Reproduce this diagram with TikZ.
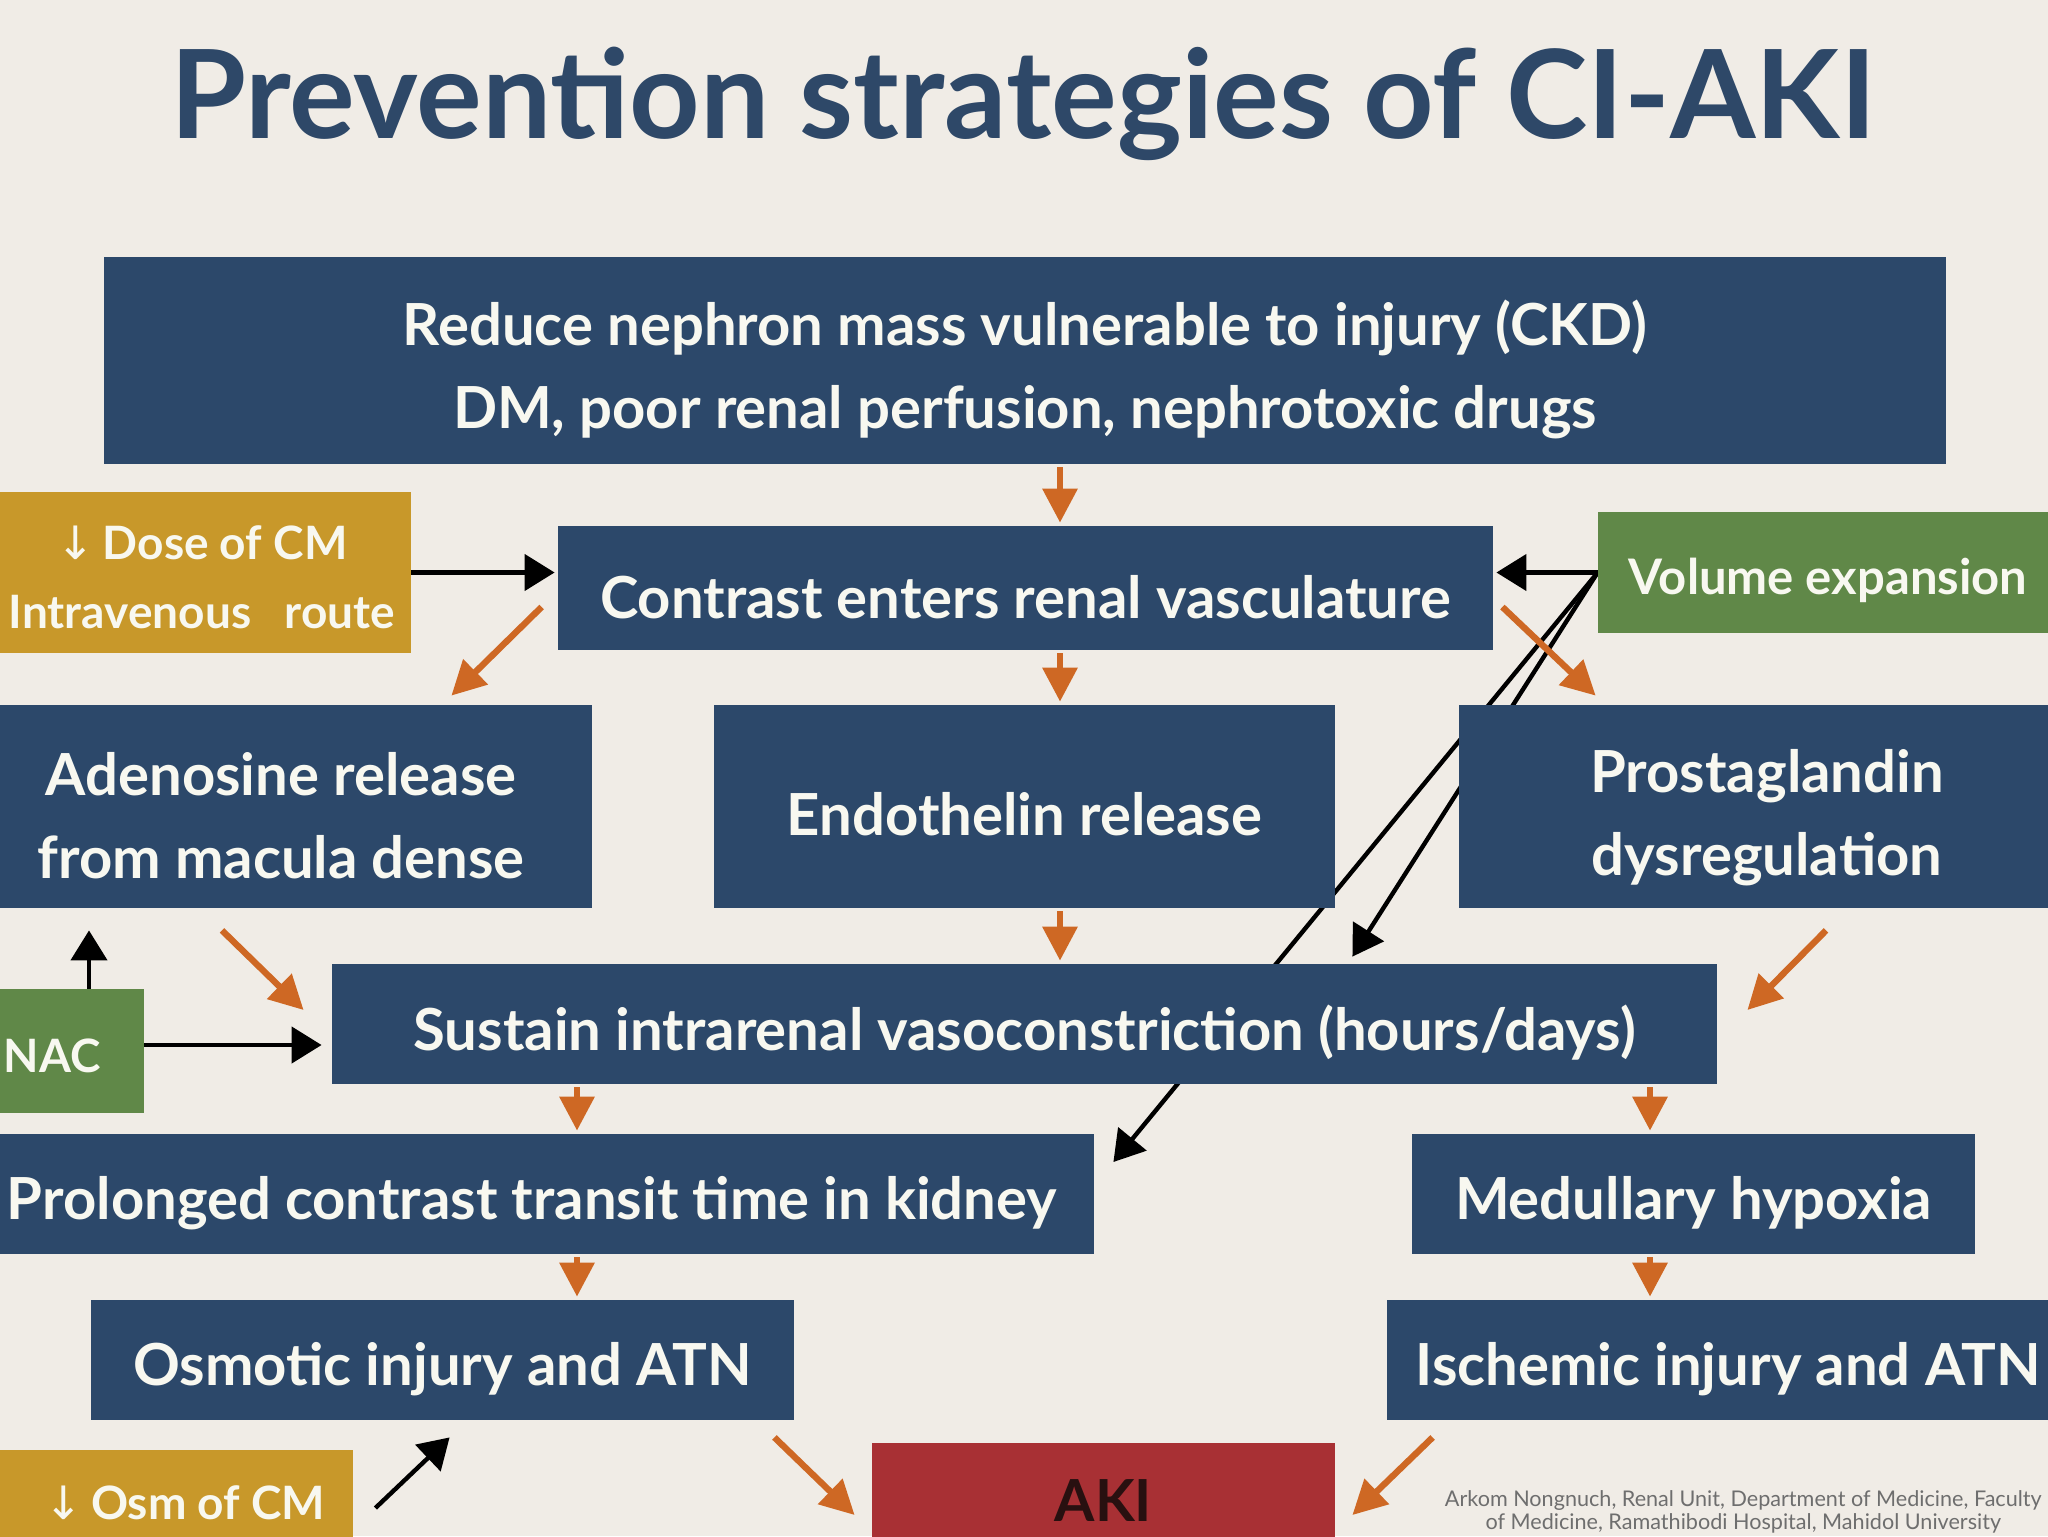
\documentclass[tikz,border=0pt]{standalone}
\usepackage{fontspec}
\setmainfont{Lato}
\newfontfamily\symfont{DejaVu Sans}
\newfontfamily\credfont{Lato}
\usetikzlibrary{arrows.meta,calc}
\definecolor{bgc}{RGB}{240,236,230}
\definecolor{navy}{RGB}{44,72,106}
\definecolor{gold}{RGB}{200,152,42}
\definecolor{leaf}{RGB}{96,136,72}
\definecolor{brick}{RGB}{168,48,52}
\definecolor{tblue}{RGB}{46,72,104}
\definecolor{orng}{RGB}{206,104,36}
\definecolor{boxtxt}{RGB}{248,248,240}
\definecolor{akitxt}{RGB}{40,16,16}
\definecolor{credgray}{RGB}{110,110,110}
\pgfdeclarelayer{back}
\pgfdeclarelayer{lines}
\pgfsetlayers{back,lines,main}
\newcommand{\dn}{{\symfont\mdseries ↓}}
\begin{document}
\begin{tikzpicture}[x=0.5pt,y=-0.5pt,
  box/.style={rectangle, inner sep=0pt, draw=none},
  nbox/.style={box, fill=navy},
  txt/.style={text=boxtxt, align=center, inner sep=0pt,
    font=\fontsize{29}{41.8}\selectfont\bfseries},
  stxt/.style={txt, font=\fontsize{23}{34.5}\selectfont\bfseries},
  oarr/.style={draw=orng, line width=3.2pt, -{Triangle[length=17pt,width=17pt]}},
  karr/.style={draw=black, line width=2.2pt, -{Triangle[length=15pt,width=18pt]}},
]
\useasboundingbox (0,0) rectangle (2048,1536);
\begin{pgfonlayer}{back}
\fill[bgc] (0,0) rectangle (2048,1536);
\end{pgfonlayer}

% title
\node[anchor=base, text=tblue, font=\fontsize{61.5}{64}\selectfont\bfseries] (title) at (1023,138) {Prevention strategies of CI-AKI};

% boxes
\node[nbox, minimum width={1842*0.5pt}, minimum height={207*0.5pt}] (ckd) at (1025,360.5) {};
\node[nbox, minimum width={935*0.5pt}, minimum height={124*0.5pt}] (contrast) at (1025.5,588) {};
\node[box, fill=gold, minimum width={418*0.5pt}, minimum height={161*0.5pt}] (dose) at (202,572.5) {};
\node[box, fill=leaf, minimum width={460*0.5pt}, minimum height={121*0.5pt}] (volume) at (1828,572.5) {};
\node[nbox, minimum width={622*0.5pt}, minimum height={203*0.5pt}] (adeno) at (281,806.5) {};
\node[nbox, minimum width={621*0.5pt}, minimum height={203*0.5pt}] (endo) at (1024.5,806.5) {};
\node[nbox, minimum width={616*0.5pt}, minimum height={203*0.5pt}] (prosta) at (1767,806.5) {};
\node[nbox, minimum width={1385*0.5pt}, minimum height={120*0.5pt}] (sustain) at (1024.5,1024) {};
\node[box, fill=leaf, minimum width={184*0.5pt}, minimum height={124*0.5pt}] (nac) at (52,1051) {};
\node[nbox, minimum width={1144*0.5pt}, minimum height={120*0.5pt}] (prolonged) at (522,1194) {};
\node[nbox, minimum width={563*0.5pt}, minimum height={120*0.5pt}] (medullary) at (1693.5,1194) {};
\node[nbox, minimum width={703*0.5pt}, minimum height={120*0.5pt}] (osmotic) at (442.5,1360) {};
\node[nbox, minimum width={708*0.5pt}, minimum height={120*0.5pt}] (ischemic) at (1741,1360) {};
\node[box, fill=brick, minimum width={463*0.5pt}, minimum height={144*0.5pt}] (aki) at (1103.5,1515) {};
\node[box, fill=gold, minimum width={373*0.5pt}, minimum height={140*0.5pt}] (osm) at (166.5,1520) {};

% texts
\node[txt] (ckdT) at ($(ckd)+(0,9)$)
  {Reduce nephron mass vulnerable to injury (CKD)\\DM, poor renal perfusion, nephrotoxic drugs};
\node[txt] (contrastT) at ($(contrast)+(0,9)$) {Contrast enters renal vasculature};
\node[stxt] (doseT) at ($(dose)+(0,5)$) {\dn\,Dose of CM\\Intravenous\ \ \ route};
\node[stxt, font=\fontsize{24.5}{30}\selectfont\bfseries] (volumeT) at ($(volume)+(0,8)$) {Volume expansion};
\node[txt] (adenoT) at ($(adeno)+(0,9)$) {Adenosine release\\from macula dense};
\node[txt] (endoT) at ($(endo)+(0,8)$) {Endothelin release};
\node[txt] (prostaT) at ($(prosta)+(0,11)$) {Prostaglandin\\dysregulation};
\node[txt] (sustainT) at ($(sustain)+(0,9)$) {Sustain intrarenal vasoconstriction (hours/days)};
\node[stxt] (nacT) at ($(nac)+(0,5)$) {NAC};
\node[txt] (prolongedT) at ($(prolonged)+(10,9)$) {Prolonged contrast transit time in kidney};
\node[txt] (medullaryT) at ($(medullary)+(0,9)$) {Medullary hypoxia};
\node[txt] (osmoticT) at ($(osmotic)+(0,9)$) {Osmotic injury and ATN};
\node[txt] (ischemicT) at ($(ischemic)+(-13,9)$) {Ischemic injury and ATN};
\node[txt, text=akitxt, anchor=base] (akiT) at (1103.5,1521) {AKI};
\node[stxt, anchor=base] (osmT) at (185,1519) {\dn\,Osm of CM};

% credit
\node[anchor=north east, inner sep=0pt, align=center, text=credgray,
  font=\credfont\fontsize{10.8}{11.5}\selectfont] (cred) at (2042,1490)
  {Arkom Nongnuch, Renal Unit, Department of Medicine, Faculty\\of Medicine, Ramathibodi Hospital, Mahidol University};

% connectors
\coordinate (ax) at (1060,0);
\coordinate (bx) at (577,0);
\coordinate (cx) at (1650,0);
\begin{pgfonlayer}{lines}
% black
\draw[karr] (dose.east) -- ($(dose.east -| contrast.west)+(-3,0)$);
\draw[karr] (volume.west) -- ($(volume.west -| contrast.east)+(3,0)$);
\draw[karr] (volume.west) -- ($(sustain.north east)+(-365,-7)$);
\draw[karr] (volume.west) -- ($(prolonged.east)+(19,-32)$);
\draw[karr] ($(nac.east)+(0,-6)$) -- ($(nac.east -| sustain.west)+(-10,-6)$);
\draw[karr] ($(nac.north)+(37,0)$) -- ($(adeno.south)+(-192,22)$);
\draw[karr] ($(osm.east)+(22,-12)$) -- ($(osmotic.south west)+(359,17)$);
% orange
\draw[oarr] ($(ckd.south -| ax)+(0,3)$) -- ($(contrast.north -| ax)+(0,-3)$);
\draw[oarr] ($(contrast.south -| ax)+(0,3)$) -- ($(endo.north -| ax)+(0,-3)$);
\draw[oarr] ($(endo.south -| ax)+(0,3)$) -- ($(sustain.north -| ax)+(0,-3)$);
\draw[oarr] ($(contrast.west)+(-16,19)$) -- ($(adeno.north east)+(-141,-9)$);
\draw[oarr] ($(contrast.east)+(9,19)$) -- ($(prosta.north west)+(137,-9)$);
\draw[oarr] ($(adeno.south)+(-59,22)$) -- ($(sustain.west)+(-28,-14)$);
\draw[oarr] ($(prosta.south)+(59,22)$) -- ($(sustain.east)+(30,-14)$);
\draw[oarr] ($(sustain.south -| bx)+(0,3)$) -- ($(prolonged.north -| bx)+(0,-3)$);
\draw[oarr] ($(sustain.south -| cx)+(0,3)$) -- ($(medullary.north -| cx)+(0,-3)$);
\draw[oarr] ($(prolonged.south -| bx)+(0,3)$) -- ($(osmotic.north -| bx)+(0,-3)$);
\draw[oarr] ($(medullary.south -| cx)+(0,3)$) -- ($(ischemic.north -| cx)+(0,-3)$);
\draw[oarr] ($(osmotic.south east)+(-20,17)$) -- ($(aki.west)+(-17,0)$);
\draw[oarr] ($(ischemic.south west)+(46,17)$) -- ($(aki.east)+(17,0)$);
\end{pgfonlayer}
\end{tikzpicture}
\end{document}
